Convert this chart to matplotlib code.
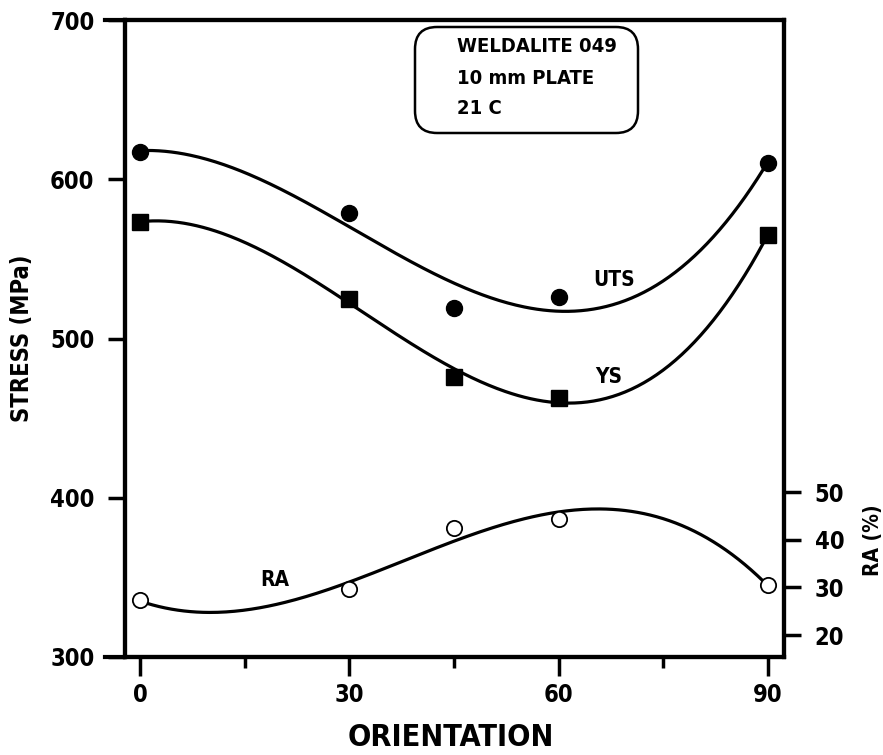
import numpy as np
import matplotlib
matplotlib.use("Agg")
import matplotlib.pyplot as plt
from matplotlib.patches import FancyBboxPatch

plt.rcParams['font.family'] = ['DejaVu Sans']
plt.rcParams['font.weight'] = 'bold'
plt.rcParams['font.stretch'] = 'condensed'
plt.rcParams['axes.labelweight'] = 'bold'

orientation = [0, 30, 45, 60, 90]
uts = [617, 579, 519, 526, 610]
ys = [573, 525, 476, 462.5, 565]
ra = [27.3, 29.6, 42.4, 44.3, 30.5]

x_ticks = [0, 30, 60, 90]
x_minor = [15, 45, 75]
stress_ticks = [300, 400, 500, 600, 700]
ra_ticks = [20, 30, 40, 50]

W, H = 883, 755
fig = plt.figure(figsize=(W / 100, H / 100), dpi=100)
L, R, T, B = 125, 784, 20, 657
ax = fig.add_axes([L / W, 1 - B / H, (R - L) / W, (B - T) / H])
ax2 = ax.twinx()

xs = np.linspace(0, 90, 300)
for data, mk in [(uts, 'o'), (ys, 's')]:
    c = np.polyfit(orientation, data, 3)
    ax.plot(xs, np.polyval(c, xs), color='black', lw=2.3)
    ax.plot(orientation, data, linestyle='none', marker=mk, ms=11.5,
            mfc='black', mec='black', clip_on=False)

c = np.polyfit(orientation, ra, 3)
ax2.plot(xs, np.polyval(c, xs), color='black', lw=2.3)
ax2.plot(orientation, ra, linestyle='none', marker='o', ms=11,
         mfc='white', mec='black', mew=1.3, clip_on=False, zorder=5)

ax.set_xlim(-2.15, 92.3)
ax.set_ylim(300, 700)
ax2.set_ylim(15.4, 149.0)

ax.set_xticks(x_ticks)
ax.set_xticks(x_minor, minor=True)
ax.set_yticks(stress_ticks)
ax2.set_yticks(ra_ticks)

fs = 17
ax.tick_params(axis='x', which='major', direction='out', length=14, width=2.5,
               pad=5, labelsize=fs)
ax.tick_params(axis='x', which='minor', direction='out', length=8, width=2.5)
ax.tick_params(axis='y', direction='out', length=12, width=2.5, pad=10,
               labelsize=fs)
ax2.tick_params(axis='y', direction='out', length=12, width=2.5, pad=10,
                labelsize=fs)

for a in (ax, ax2):
    for s in a.spines.values():
        s.set_linewidth(3)

# extended spine stubs at left
for yy in (0, 1):
    ax.plot([-0.03, 0], [yy, yy], transform=ax.transAxes, color='black',
            lw=3, clip_on=False)

fig.text(451 / W, 1 - 737 / H, 'ORIENTATION', fontsize=22,
         fontweight='bold', ha='center', va='center')
fig.text(22 / W, 1 - 338 / H, 'STRESS (MPa)', rotation=90, fontsize=17,
         fontweight='bold', ha='center', va='center')
fig.text(873 / W, 1 - 540 / H, 'RA (%)', rotation=90, fontsize=15,
         fontweight='bold', ha='center', va='center')

ax.text(64.9, 536.7, 'UTS', fontsize=15, ha='left', va='center')
ax.text(65.2, 475.8, 'YS', fontsize=15, ha='left', va='center')
ax.text(17.3, 348.4, 'RA', fontsize=15, ha='left', va='center')

# info box
bx0, by0, bx1, by1 = 415, 27, 638, 133
box = FancyBboxPatch((bx0 / W, 1 - by1 / H), (bx1 - bx0) / W, (by1 - by0) / H,
                     boxstyle='round,pad=0,rounding_size=0.025',
                     transform=fig.transFigure, fc='white', ec='black', lw=1.8,
                     mutation_aspect=W / H)
fig.add_artist(box)
for txt, yy in [('WELDALITE 049', 46), ('10 mm PLATE', 78), ('21 C', 109)]:
    fig.text(457 / W, 1 - yy / H, txt, fontsize=14.5, ha='left', va='center')

fig.savefig('out.png', dpi=100)
